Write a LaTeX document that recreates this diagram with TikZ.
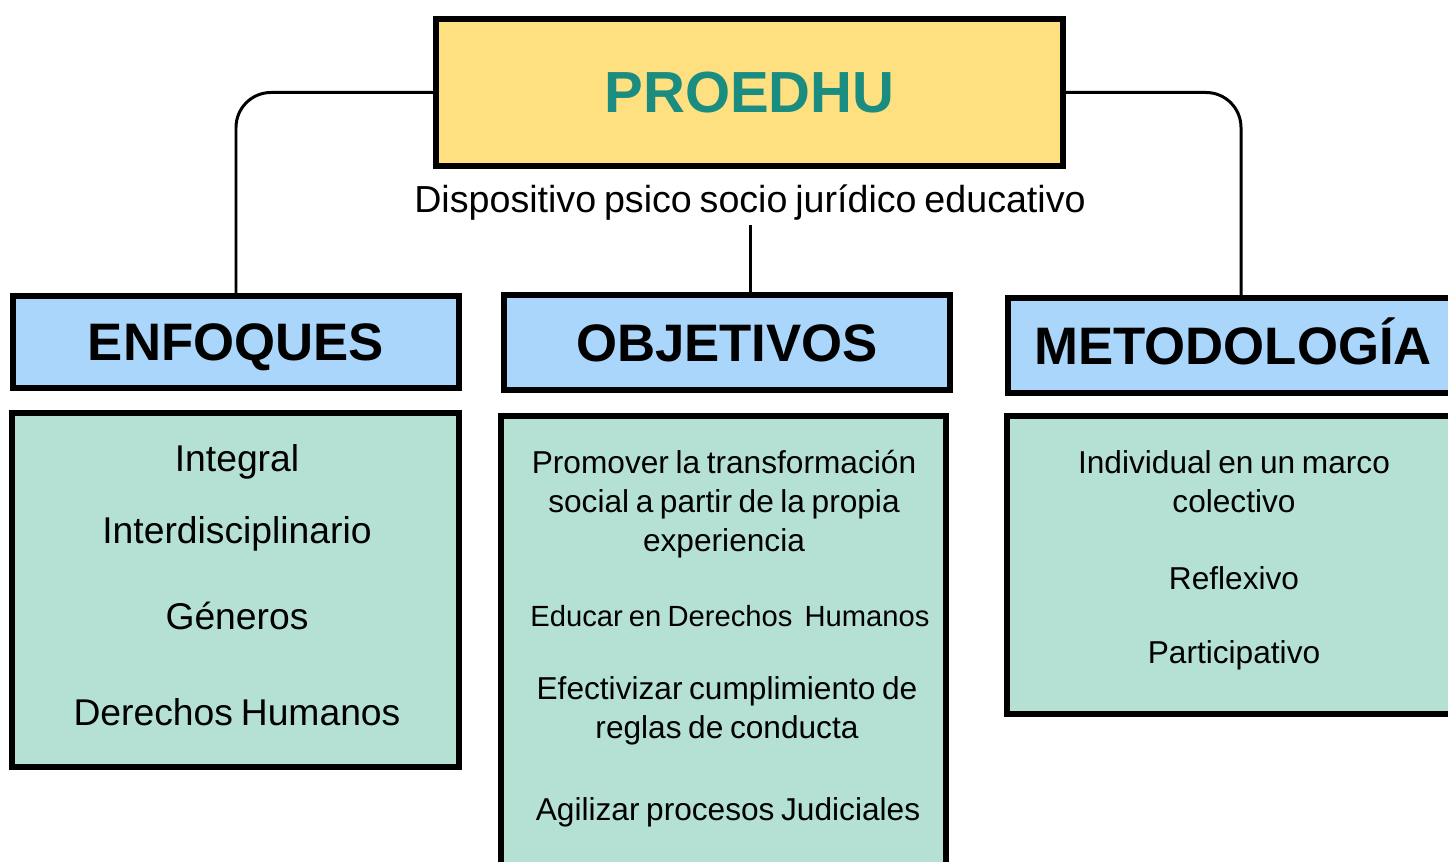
\documentclass[tikz,border=0pt]{standalone}
\usepackage{fontspec}
\setmainfont{Liberation Sans}[WordSpace=0.75]
\usetikzlibrary{positioning}
\definecolor{amarillo}{RGB}{255,224,128}
\definecolor{celeste}{RGB}{170,214,251}
\definecolor{verdeagua}{RGB}{180,225,212}
\definecolor{verdeazul}{RGB}{27,140,128}

\begin{document}
\begin{tikzpicture}[x=0.01cm,y=-0.01cm,
  principal/.style={draw,line width=1.7pt,fill=amarillo,text=verdeazul,font=\fontsize{16.5}{20}\selectfont\bfseries},
  titulo/.style={draw,line width=1.7pt,fill=celeste,text height=10.7pt,text depth=0pt,font=\fontsize{15}{18}\selectfont\bfseries},
  bloque/.style={draw,line width=1.7pt,fill=verdeagua},
  item/.style={align=center,font=\fontsize{9}{11}\selectfont},
  itemgrande/.style={font=\fontsize{10.6}{13}\selectfont},
  enlace/.style={line width=0.85pt,rounded corners=0.35cm}]
  \useasboundingbox (0,0) rectangle (1448,862);
  \clip (0,0) rectangle (1448,862);
  % cabecera
  \node[principal, minimum width=6.27cm, minimum height=1.47cm] (proedhu) at (749.5,92.5) {PROEDHU};
  \node[font=\fontsize{10.7}{12}\selectfont] (lema) at (750,203) {Dispositivo psico socio jurídico educativo};
  % tres columnas
  \node[titulo, minimum width=4.46cm, minimum height=0.91cm] (enfoques) at (236,342) {ENFOQUES};
  \node[titulo, minimum width=4.46cm, minimum height=0.95cm] (objetivos) at (727,342.5) {OBJETIVOS};
  \node[titulo, minimum width=4.5cm, minimum height=0.95cm] (metodologia) at (1233,345.5) {METODOLOGÍA};
  \node[bloque, minimum width=4.47cm, minimum height=3.54cm] (bloqueA) at (235.5,590) {};
  \node[bloque, minimum width=4.45cm, minimum height=5cm] (bloqueB) at (723.5,666) {};
  \node[bloque, minimum width=4.5cm, minimum height=2.98cm] (bloqueC) at (1232,565) {};
  % enfoques
  \node[itemgrande] (integral) at (237,462) {Integral};
  \node[itemgrande] (interdisc) at (237,534) {Interdisciplinario};
  \node[itemgrande] (generos) at (237,616) {Géneros};
  \node[itemgrande] (ddhh) at (237,712) {Derechos Humanos};
  % objetivos
  \node[item] (promover) at (724,504) {Promover la transformación\\social a partir de la propia\\experiencia};
  \node[item, font=\fontsize{8.3}{10}\selectfont] (educar) at (730,616) {Educar en Derechos\ \ Humanos};
  \node[item] (efectivizar) at (727,711) {Efectivizar cumplimiento de\\reglas de conducta};
  \node[item] (agilizar) at (728,812) {Agilizar procesos Judiciales};
  % metodologia
  \node[item] (individual) at (1234,482) {Individual en un marco\\colectivo};
  \node[item] (reflexivo) at (1234,578) {Reflexivo};
  \node[item] (participativo) at (1234,655) {Participativo};
  % conectores
  \draw[enlace] (proedhu.west) -| (enfoques.north);
  \draw[enlace] (proedhu.east) -| ([xshift=0.08cm]metodologia.north);
  \draw[enlace] ([yshift=0.08cm]lema.south) -- (lema.south |- objetivos.north);
\end{tikzpicture}
\end{document}
